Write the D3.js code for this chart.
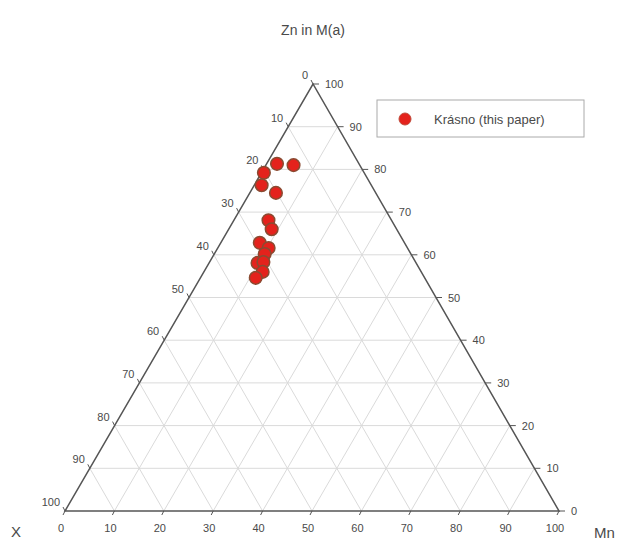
<!DOCTYPE html>
<html>
<head>
<meta charset="utf-8">
<script src="https://cdn.jsdelivr.net/npm/d3@7"></script>
<style>
  body { margin: 0; background: #fff; }
  text { font-family: "Liberation Sans", Arial, sans-serif; fill: #4a4a4a; }
</style>
</head>
<body>
<svg></svg>
<script>
// Chart size.
var width = 623,
    height = 541;

var svg = d3.select("svg")
    .attr("width", width)
    .attr("height", height);

// Tick values shared by the three axes.
var ticks = [0, 10, 20, 30, 40, 50, 60, 70, 80, 90, 100];

var sampleZn = [81.3, 81.0, 79.2, 76.3, 74.5, 68.1, 66.0, 62.8, 61.6, 60.2, 58.1, 58.3, 56.0, 54.6];
var sampleMn = [2.1, 5.6, 0.5, 1.5, 5.3, 7.0, 8.7, 7.9, 10.3, 10.2, 9.8, 10.9, 11.9, 11.2];

var legendLabel = "Krásno (this paper)";

// Triangle corners: bottom-left (X), bottom-right (Mn), top (Zn).
var triLeft = 65, triRight = 559, triBottom = 511, triTop = 84;
var apexX = 313;

var mnScale = d3.scaleLinear().domain([0, 100]).range([triLeft, triRight]);
var znScale = d3.scaleLinear().domain([0, 100]).range([triBottom, triTop]);

// Project a Zn/Mn pair into pixels.
function project(zn, mn) {
  return [mnScale(mn) + (apexX - triLeft) * zn / 100, znScale(zn)];
}

var samples = sampleZn.map(function (zn, i) {
  return { zn: zn, mn: sampleMn[i] };
});

// Grid lines, one set for each component.
var grid = svg.append("g")
    .attr("stroke", "#dadada")
    .attr("stroke-width", 1)
    .attr("fill", "none");

ticks.slice(1, -1).forEach(function (v) {
  var a, b;
  // Zn constant: horizontal
  a = project(v, 0); b = project(v, 100 - v);
  grid.append("line").attr("x1", a[0]).attr("y1", a[1]).attr("x2", b[0]).attr("y2", b[1]);
  // Mn constant: parallel to left edge
  a = project(0, v); b = project(100 - v, v);
  grid.append("line").attr("x1", a[0]).attr("y1", a[1]).attr("x2", b[0]).attr("y2", b[1]);
  // X constant: parallel to right edge
  a = project(100 - v, 0); b = project(0, 100 - v);
  grid.append("line").attr("x1", a[0]).attr("y1", a[1]).attr("x2", b[0]).attr("y2", b[1]);
});

// Triangle outline.
var corners = [project(0, 0), project(0, 100), project(100, 0)];
svg.append("path")
    .attr("d", "M" + corners.join("L") + "Z")
    .attr("fill", "none")
    .attr("stroke", "#555")
    .attr("stroke-width", 1.5);

var tickG = svg.append("g")
    .attr("stroke", "#555")
    .attr("stroke-width", 1);

var labelG = svg.append("g")
    .attr("font-size", "11px");

ticks.forEach(function (v) {
  var p;

  // Bottom axis: Mn
  p = project(0, v);
  tickG.append("line")
      .attr("x1", p[0]).attr("y1", p[1])
      .attr("x2", p[0] - 2).attr("y2", p[1] + 4);
  labelG.append("text")
      .attr("x", p[0] - 4).attr("y", p[1] + 21)
      .attr("text-anchor", "middle")
      .text(v);

  // Right axis: Zn
  p = project(v, 100 - v);
  tickG.append("line")
      .attr("x1", p[0]).attr("y1", p[1])
      .attr("x2", p[0] + 6).attr("y2", p[1]);
  labelG.append("text")
      .attr("x", p[0] + 12).attr("y", p[1] + 4)
      .attr("text-anchor", "start")
      .text(v);

  // Left axis: X
  p = project(100 - v, 0);
  tickG.append("line")
      .attr("x1", p[0]).attr("y1", p[1])
      .attr("x2", p[0] - 2).attr("y2", p[1] - 4);
  labelG.append("text")
      .attr("x", p[0] - 5).attr("y", p[1] - 5)
      .attr("text-anchor", "end")
      .text(v);
});

// Corner titles.
svg.append("text")
    .attr("x", apexX)
    .attr("y", 35)
    .attr("text-anchor", "middle")
    .attr("font-size", "14px")
    .attr("fill", "#333")
    .text("Zn in M(a)");

svg.append("text")
    .attr("x", 11)
    .attr("y", 537)
    .attr("font-size", "15px")
    .attr("fill", "#333")
    .text("X");

svg.append("text")
    .attr("x", 594)
    .attr("y", 538)
    .attr("font-size", "15px")
    .attr("fill", "#333")
    .text("Mn");

// Sample points.
svg.selectAll("circle.sample")
    .data(samples)
  .enter().append("circle")
    .attr("class", "sample")
    .attr("cx", function (d) { return project(d.zn, d.mn)[0]; })
    .attr("cy", function (d) { return project(d.zn, d.mn)[1]; })
    .attr("r", 6.3)
    .attr("fill", "#e4221c")
    .attr("stroke", "#8a4b32")
    .attr("stroke-width", 1.5);

// Legend.
var legend = svg.append("g").attr("transform", "translate(377,100)");
legend.append("rect")
    .attr("width", 207)
    .attr("height", 37)
    .attr("fill", "#fff")
    .attr("stroke", "#aaa");
legend.append("circle")
    .attr("cx", 28)
    .attr("cy", 19)
    .attr("r", 6)
    .attr("fill", "#e4221c")
    .attr("stroke", "#c04a3a")
    .attr("stroke-width", 1);
legend.append("text")
    .attr("x", 57)
    .attr("y", 24)
    .attr("font-size", "13px")
    .text(legendLabel);
</script>
</body>
</html>
